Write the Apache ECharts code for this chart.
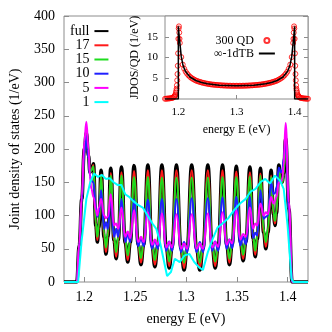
<!DOCTYPE html>
<html>
<head>
<meta charset="utf-8">
<script src="https://cdn.jsdelivr.net/npm/echarts@6/dist/echarts.min.js"></script>
<style>
html, body { margin: 0; padding: 0; background: #fff; }
#jdos { width: 332px; height: 332px; }
</style>
</head>
<body>
<div id="jdos"></div>
<script>
/** 主图：共用能量网格（峰、谷左、谷心、谷右） */
const energy = [
  1.18, 1.1925, 1.1950, 1.1975, 1.2000,
  1.2020, 1.2041, 1.2055, 1.2069,
  1.2090, 1.2113, 1.2128, 1.2143,
  1.2165, 1.2194, 1.2213, 1.2232,
  1.2260, 1.2292, 1.2313, 1.2334,
  1.2365, 1.2402, 1.2427, 1.2452,
  1.2489, 1.2530, 1.2557, 1.2584,
  1.2625, 1.2666, 1.2694, 1.2722,
  1.2763, 1.2806, 1.2835, 1.2863,
  1.2906, 1.2951, 1.2981, 1.3011,
  1.3056, 1.3104, 1.3136, 1.3167,
  1.3215, 1.3258, 1.3287, 1.3316,
  1.3359, 1.3400, 1.3427, 1.3454,
  1.3495, 1.3535, 1.3562, 1.3589,
  1.3629, 1.3660, 1.3681, 1.3701,
  1.3732, 1.3764, 1.3785, 1.3806,
  1.3837, 1.3860, 1.3875, 1.3890,
  1.3913, 1.3933, 1.3947, 1.3960,
  1.3980, 1.4012, 1.4044, 1.42
]
const full = [
  0, 0, 55, 125, 200,
  224, 190, 165, 168,
  178, 84, 60, 82,
  168, 67, 42, 68,
  171, 62, 35, 63,
  173, 59, 30, 59,
  175, 56, 26, 56,
  176, 54, 23, 54,
  176, 52, 21, 52,
  176, 50, 18, 50,
  176, 50, 18, 50,
  176, 52, 21, 52,
  176, 56, 26, 56,
  174, 60, 32, 60,
  173, 65, 38, 64,
  171, 74, 50, 74,
  168, 102, 85, 103,
  176, 155, 150, 163,
  216, 110, 0, 0
]
const n17 = [
  0, 0, 55, 122, 196,
  222, 188, 166, 168,
  176, 86, 63, 83,
  162, 68, 45, 69,
  164, 63, 38, 63,
  165, 59, 33, 60,
  167, 57, 29, 57,
  168, 54, 26, 54,
  168, 53, 24, 53,
  168, 50, 21, 50,
  168, 50, 21, 50,
  168, 53, 24, 53,
  168, 57, 29, 57,
  166, 61, 35, 61,
  165, 66, 41, 66,
  163, 75, 53, 75,
  160, 102, 88, 104,
  170, 154, 150, 163,
  214, 108, 0, 0
]
const n15 = [
  0, 0, 55, 122, 196,
  222, 188, 165, 168,
  174, 89, 68, 86,
  160, 74, 52, 74,
  160, 68, 45, 68,
  160, 64, 40, 64,
  158, 60, 36, 60,
  158, 58, 33, 58,
  157, 56, 31, 56,
  157, 55, 29, 55,
  157, 55, 29, 55,
  157, 56, 31, 56,
  158, 60, 35, 60,
  158, 64, 41, 64,
  159, 69, 47, 70,
  160, 80, 60, 80,
  158, 105, 92, 107,
  168, 154, 150, 163,
  214, 108, 0, 0
]
const n10 = [
  0, 0, 54, 120, 194,
  220, 185, 160, 152,
  150, 112, 98, 104,
  138, 80, 90, 80,
  128, 68, 80, 68,
  125, 60, 72, 60,
  124, 54, 66, 54,
  124, 50, 63, 50,
  125, 47, 61, 47,
  125, 45, 60, 45,
  126, 45, 60, 45,
  126, 47, 61, 47,
  127, 50, 64, 51,
  128, 55, 68, 57,
  128, 66, 74, 70,
  138, 95, 98, 100,
  150, 132, 134, 142,
  172, 165, 168, 185,
  214, 108, 0, 0
]
const n5 = [
  0, 0, 58, 130, 212,
  241, 200, 160, 140,
  128, 108, 100, 112,
  125, 100, 96, 98,
  132, 85, 88, 80,
  112, 68, 76, 66,
  108, 60, 68, 60,
  105, 56, 64, 56,
  103, 52, 60, 52,
  102, 50, 58, 50,
  102, 50, 58, 50,
  103, 52, 60, 53,
  105, 56, 64, 58,
  108, 64, 72, 68,
  112, 80, 88, 85,
  118, 100, 105, 102,
  128, 118, 122, 128,
  150, 150, 155, 175,
  239, 120, 0, 0
]
/** 1 的曲线单独取点 */
const cyanE = [
  1.18, 1.1939, 1.1972, 1.2020, 1.2058, 1.2096, 1.2135, 1.2173, 1.2211, 1.2249,
  1.2288, 1.2326, 1.2364, 1.2402, 1.2441, 1.2479, 1.2527, 1.2575, 1.2622, 1.2670,
  1.2708, 1.2747, 1.2785, 1.2814, 1.2852, 1.2890, 1.2938, 1.2986, 1.3034, 1.3081,
  1.3129, 1.3167, 1.3215, 1.3263, 1.3311, 1.3359, 1.3416, 1.3473, 1.3531, 1.3588,
  1.3636, 1.3684, 1.3732, 1.3780, 1.3827, 1.3875, 1.3923, 1.3961, 1.3999, 1.4038,
  1.4057, 1.42
]
const n1 = [
  0, 0, 60, 125, 150, 163, 158, 161, 155, 156,
  150, 146, 146, 132, 128, 122, 116, 112, 100, 88,
  80, 58, 30, 9, 15, 35, 30, 40, 42, 30,
  22, 18, 45, 65, 82, 88, 96, 108, 118, 125,
  136, 140, 150, 155, 148, 160, 153, 140, 85, 5,
  0, 0
]
const mainXTicks = [1.2, 1.25, 1.3, 1.35, 1.4]

/** 插图：无限链 1dTB */
const tbE = [1.177, 1.1999, 1.2, 1.2015, 1.203, 1.205, 1.208, 1.212, 1.22, 1.23, 1.24, 1.25, 1.27, 1.3,
  1.33, 1.35, 1.36, 1.37, 1.38, 1.388, 1.392, 1.395, 1.397, 1.3985, 1.4, 1.4001, 1.423]
const tbJ = [0, 0, 17.5, 15, 13, 10.2, 8.1, 6.7, 5.3, 4.46, 3.98, 3.67, 3.34, 3.18,
  3.34, 3.67, 3.98, 4.46, 5.3, 6.7, 8.1, 10.2, 13, 15, 17.5, 0, 0]
/** 插图：300 QD */
const qdE = [
  1.177, 1.179, 1.181, 1.183, 1.185, 1.187, 1.189, 1.1905, 1.192, 1.193,
  1.194, 1.195, 1.196, 1.1965, 1.197, 1.1975, 1.198, 1.1985, 1.199, 1.1995,
  1.2, 1.2005, 1.201, 1.2015, 1.202,
  1.2025, 1.205, 1.2075, 1.21, 1.2125, 1.215, 1.2175, 1.22, 1.2225, 1.225,
  1.2275, 1.23, 1.2325, 1.235, 1.2375, 1.24, 1.2425, 1.245, 1.2475, 1.25,
  1.2525, 1.255, 1.2575, 1.26, 1.2625, 1.265, 1.2675, 1.27, 1.2725, 1.275,
  1.2775, 1.28, 1.2825, 1.285, 1.2875, 1.29, 1.2925, 1.295, 1.2975, 1.3,
  1.3025, 1.305, 1.3075, 1.31, 1.3125, 1.315, 1.3175, 1.32, 1.3225, 1.325,
  1.3275, 1.33, 1.3325, 1.335, 1.3375, 1.34, 1.3425, 1.345, 1.3475, 1.35,
  1.3525, 1.355, 1.3575, 1.36, 1.3625, 1.365, 1.3675, 1.37, 1.3725, 1.375,
  1.3775, 1.38, 1.3825, 1.385, 1.3875, 1.39, 1.3925, 1.395, 1.3975,
  1.398, 1.3985, 1.399, 1.3995, 1.4, 1.4005, 1.401, 1.4015, 1.402, 1.4025,
  1.403, 1.4035, 1.404, 1.405, 1.406, 1.407, 1.408, 1.4095, 1.411, 1.413,
  1.415, 1.417, 1.419, 1.421, 1.423
]
const qdJ = [
  0.05, 0.07, 0.1, 0.12, 0.15, 0.2, 0.25, 0.32, 0.45, 0.6,
  0.8, 1.1, 1.6, 2.0, 2.5, 3.3, 4.5, 6.0, 8, 11,
  14.5, 17, 17.5, 16, 14.5,
  13.5, 10.1, 8.3, 7.3, 6.6, 6.1, 5.7, 5.35, 5.08, 4.85,
  4.65, 4.46, 4.32, 4.2, 4.09, 3.99, 3.9, 3.82, 3.74, 3.67,
  3.61, 3.55, 3.5, 3.46, 3.42, 3.39, 3.36, 3.33, 3.3, 3.28,
  3.26, 3.24, 3.22, 3.21, 3.2, 3.19, 3.18, 3.18, 3.18, 3.18,
  3.18, 3.18, 3.18, 3.19, 3.2, 3.21, 3.22, 3.24, 3.26, 3.28,
  3.3, 3.33, 3.36, 3.39, 3.42, 3.46, 3.5, 3.55, 3.61, 3.67,
  3.74, 3.82, 3.9, 3.99, 4.09, 4.2, 4.32, 4.46, 4.65, 4.85,
  5.08, 5.35, 5.7, 6.1, 6.6, 7.3, 8.3, 10.1, 13.5,
  14.5, 16, 17.5, 17, 14.5, 11, 8, 6.0, 4.5, 3.3,
  2.5, 2.0, 1.6, 1.1, 0.8, 0.6, 0.45, 0.32, 0.25, 0.2,
  0.15, 0.12, 0.1, 0.07, 0.05
]
const insetXTicks = [1.2, 1.3, 1.4]

const FONT = 'Liberation Serif'
const GREY = '#8c8c8c'

function pairs (xs, ys) {
  return xs.map((x, i) => [x, ys[i]])
}

function mainLine (name, ys, color, width, xs) {
  return {
    name: name,
    type: 'line',
    xAxisIndex: 0,
    yAxisIndex: 0,
    symbol: 'none',
    smooth: 0.45,
    smoothMonotone: 'x',
    lineStyle: { color: color, width: width },
    itemStyle: { color: color },
    data: pairs(xs || energy, ys)
  }
}

const tickStyle = { inside: true, length: 5, lineStyle: { color: GREY } }

const chart = echarts.init(document.getElementById('jdos'))
const option = {
  animation: false,
  textStyle: { fontFamily: FONT },
  grid: [
    { left: 57, top: 16, width: 251, height: 266, show: true, borderColor: GREY, borderWidth: 1 },
    { left: 165, top: 16, width: 143, height: 83, show: true, borderColor: GREY, borderWidth: 1, backgroundColor: '#fff' }
  ],
  xAxis: [
    {
      gridIndex: 0,
      type: 'value',
      min: 1.18,
      max: 1.42,
      name: 'energy E (eV)',
      nameLocation: 'middle',
      nameGap: 30,
      nameTextStyle: { fontFamily: FONT, fontSize: 14, color: '#000' },
      axisLine: { show: false },
      axisTick: Object.assign({ customValues: mainXTicks }, tickStyle),
      axisLabel: { customValues: mainXTicks, fontFamily: FONT, fontSize: 14, color: '#000', margin: 8 },
      splitLine: { show: false }
    },
    {
      gridIndex: 1,
      type: 'value',
      min: 1.177,
      max: 1.423,
      name: 'energy E (eV)',
      nameLocation: 'middle',
      nameGap: 25,
      nameTextStyle: { fontFamily: FONT, fontSize: 12, color: '#000' },
      axisLine: { show: false },
      axisTick: Object.assign({ customValues: insetXTicks }, tickStyle, { length: 4 }),
      axisLabel: { customValues: insetXTicks, fontFamily: FONT, fontSize: 11, color: '#000', margin: 8 },
      splitLine: { show: false }
    }
  ],
  yAxis: [
    {
      gridIndex: 0,
      type: 'value',
      min: 0,
      max: 400,
      interval: 50,
      name: 'Joint density of states (1/eV)',
      nameLocation: 'middle',
      nameGap: 42,
      nameTextStyle: { fontFamily: FONT, fontSize: 14, color: '#000' },
      axisLine: { show: false },
      axisTick: tickStyle,
      axisLabel: { fontFamily: FONT, fontSize: 14, color: '#000', margin: 9 },
      splitLine: { show: false }
    },
    {
      gridIndex: 0,
      type: 'value',
      position: 'right',
      min: 0,
      max: 400,
      interval: 50,
      axisLine: { show: false },
      axisTick: tickStyle,
      axisLabel: { show: false },
      splitLine: { show: false }
    },
    {
      gridIndex: 1,
      type: 'value',
      min: 0,
      max: 20,
      interval: 5,
      name: 'JDOS/QD (1/eV)',
      nameLocation: 'middle',
      nameGap: 24,
      nameTextStyle: { fontFamily: FONT, fontSize: 12, color: '#000' },
      axisLine: { show: false },
      axisTick: Object.assign({}, tickStyle, { length: 4 }),
      axisLabel: { fontFamily: FONT, fontSize: 11, color: '#000', margin: 7, showMaxLabel: false },
      splitLine: { show: false }
    },
    {
      gridIndex: 1,
      type: 'value',
      position: 'right',
      min: 0,
      max: 20,
      interval: 5,
      axisLine: { show: false },
      axisTick: Object.assign({}, tickStyle, { length: 4 }),
      axisLabel: { show: false },
      splitLine: { show: false }
    }
  ],
  legend: [
    {
      data: ['full', '17', '15', '10', '5', '1'],
      orient: 'vertical',
      left: 70,
      top: 24,
      padding: 0,
      itemGap: 0,
      itemWidth: 14,
      itemHeight: 2,
      align: 'right',
      selectedMode: false,
      itemStyle: { opacity: 0 },
      textStyle: { fontFamily: FONT, fontSize: 14, color: '#000', lineHeight: 14.2 }
    },
    {
      data: [{ name: '300 QD' }, { name: '∞-1dTB', itemStyle: { opacity: 0 } }],
      orient: 'vertical',
      left: 214,
      top: 34,
      padding: 0,
      itemGap: 0,
      itemWidth: 16,
      itemHeight: 5,
      align: 'right',
      selectedMode: false,
      textStyle: { fontFamily: FONT, fontSize: 12, color: '#000', lineHeight: 13 }
    }
  ],
  series: [
    mainLine('full', full, '#000000', 3.5),
    mainLine('17', n17, '#ff1a1a', 2),
    mainLine('15', n15, '#1edc1e', 2),
    mainLine('10', n10, '#2020ff', 2),
    mainLine('5', n5, '#ff00ff', 2),
    Object.assign(mainLine('1', n1, '#00ffff', 2, cyanE), { smooth: false }),
    {
      name: '300 QD',
      type: 'scatter',
      xAxisIndex: 1,
      yAxisIndex: 2,
      symbol: 'circle',
      symbolSize: 5,
      itemStyle: { color: 'transparent', borderColor: '#ff0000', borderWidth: 1 },
      data: pairs(qdE, qdJ)
    },
    {
      name: '∞-1dTB',
      type: 'line',
      xAxisIndex: 1,
      yAxisIndex: 2,
      symbol: 'none',
      z: 3,
      lineStyle: { color: '#000', width: 1.5 },
      itemStyle: { color: '#000' },
      data: pairs(tbE, tbJ)
    }
  ]
}
chart.setOption(option)
</script>
</body>
</html>
